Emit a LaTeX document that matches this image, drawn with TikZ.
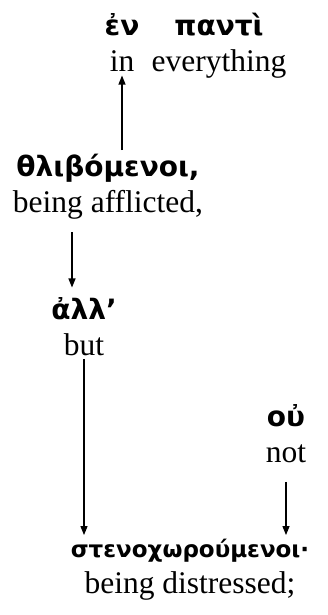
\documentclass[tikz,border=0pt]{standalone}
\usepackage{fontspec}
\setmainfont{Liberation Serif}
\newfontfamily\grkfont{DejaVu Sans}
\usetikzlibrary{arrows.meta}

\newcommand{\wordpair}[3][28]{{\fontsize{#1}{36}\grkfont\bfseries #2}\\#3}

\begin{document}
\begin{tikzpicture}[
  x=1pt,y=-1pt,
  word/.style={align=center,anchor=base,font=\fontsize{31.5}{36}\selectfont},
  link/.style={-{Triangle[length=9pt,width=7pt]},line width=1.2pt}
]
  \useasboundingbox (0,0) rectangle (328,615);

  % base anchor sits on the english line
  \node[word] (en) at (122,72) {\wordpair{ἐν}{in}};
  \node[word] (panti) at (219,72) {\wordpair{παντὶ}{everything}};
  \node[word] (thl) at (108,212) {\wordpair{θλιβόμενοι,}{being afflicted,}};
  \node[word] (all) at (84,355) {\wordpair{ἀλλ’}{but}};
  \node[word] (ou) at (286,462) {\wordpair{οὐ}{not}};
  \node[word] (sten) at (190,593) {\wordpair[23]{στενοχωρούμενοι·}{being distressed;}};

  \draw[link] (thl.north -| en.south) -- (en.south);
  \draw[link,shorten <=10pt,shorten >=6pt] ([xshift=-12pt]all.north |- thl.south) -- ([xshift=-12pt]all.north);
  \draw[link] (all.south) -- (all.south |- sten.north);
  \draw[link,shorten <=16pt] (ou.south) -- (ou.south |- sten.north);
\end{tikzpicture}
\end{document}
